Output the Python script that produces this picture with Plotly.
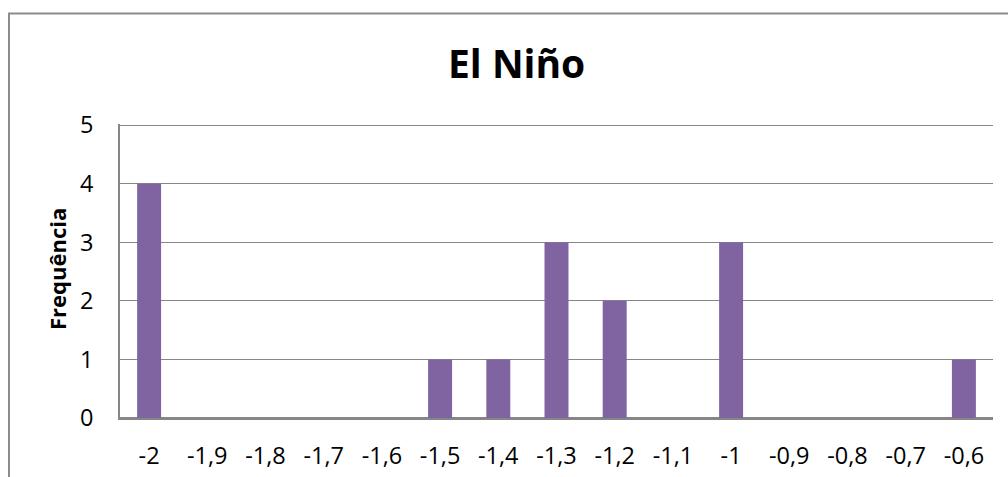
import plotly.graph_objects as go

# Classes of the index and how many events fall in each
classes = ["-2", "-1,9", "-1,8", "-1,7", "-1,6", "-1,5", "-1,4", "-1,3",
           "-1,2", "-1,1", "-1", "-0,9", "-0,8", "-0,7", "-0,6"]
frequencia = [4, 0, 0, 0, 0, 1, 1, 3, 2, 0, 3, 0, 0, 0, 1]
y_ticks = [0, 1, 2, 3, 4, 5]

W, H = 1008, 477
L, R, T, B = 120, 15, 124, 59
pw, ph = W - L - R, H - T - B

def px_x(px):
    return (px - L) / pw

def px_y(py):
    return (H - B - py) / ph

FONT = "Open Sans, Calibri, Arial, sans-serif"
GRID = "#868686"
TICK_SIZE = 23.5

fig = go.Figure(
    go.Bar(
        x=classes,
        y=frequencia,
        marker=dict(color="#8064A2", line=dict(width=0)),
    )
)

fig.update_layout(
    width=W,
    height=H,
    margin=dict(l=L, r=R, t=T, b=B, autoexpand=False),
    paper_bgcolor="white",
    plot_bgcolor="white",
    bargap=0.588,
    showlegend=False,
    font=dict(family=FONT, size=TICK_SIZE, color="black"),
    xaxis=dict(
        type="category",
        automargin=False,
        showgrid=False,
        showline=True,
        linecolor=GRID,
        linewidth=1.5,
        ticks="",
        ticklabelstandoff=16,
        tickfont=dict(size=TICK_SIZE),
    ),
    yaxis=dict(
        automargin=False,
        range=[0, 5.02],
        tickvals=y_ticks,
        showgrid=True,
        gridcolor=GRID,
        gridwidth=1,
        zeroline=True,
        zerolinecolor=GRID,
        zerolinewidth=1.5,
        showline=True,
        linecolor=GRID,
        linewidth=1.5,
        ticks="",
        ticklabelstandoff=20,
        tickfont=dict(size=TICK_SIZE),
    ),
    shapes=[
        dict(
            type="rect",
            xref="paper",
            yref="paper",
            x0=px_x(9),
            x1=px_x(1024),
            y0=px_y(490),
            y1=px_y(13.5),
            line=dict(color="#8c8c8c", width=2),
            fillcolor="rgba(0,0,0,0)",
            layer="below",
        )
    ],
    annotations=[
        dict(
            text="<b>El Niño</b>",
            xref="paper",
            yref="paper",
            x=px_x(516.5),
            y=px_y(62.5),
            xanchor="center",
            yanchor="middle",
            showarrow=False,
            font=dict(family=FONT, size=39, color="black"),
        ),
        dict(
            text="<b>Frequência</b>",
            xref="paper",
            yref="paper",
            x=px_x(57),
            y=px_y(269),
            xanchor="center",
            yanchor="middle",
            textangle=-90,
            showarrow=False,
            font=dict(family=FONT, size=22, color="black"),
        ),
    ],
)

fig.write_html("out.html")
